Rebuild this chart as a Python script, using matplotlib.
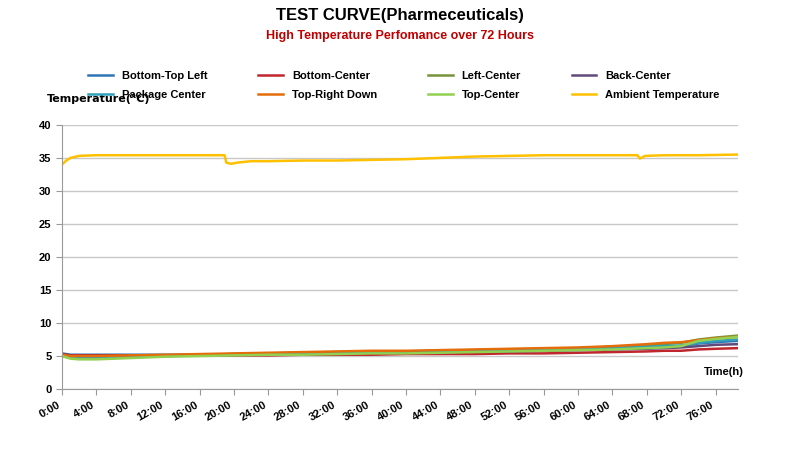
import matplotlib
matplotlib.use('Agg')
from matplotlib import pyplot as plt
import numpy as np

plt.rcParams['font.family'] = ['Liberation Sans', 'DejaVu Sans']

# key readings (hour, temperature)
hours = [0, 1, 2, 4, 8, 12, 16, 20, 24, 28, 32, 36, 40, 44, 48, 52, 56, 60, 64, 68, 70, 72, 74, 76, 78.6]
series = {
    'Bottom-Top Left':     ('#2e75b6', [5.4, 5.2, 5.2, 5.2, 5.2, 5.2, 5.2, 5.2, 5.3, 5.4, 5.5, 5.5, 5.6, 5.6, 5.7, 5.8, 5.9, 6.0, 6.1, 6.3, 6.4, 6.5, 6.9, 7.1, 7.3]),
    'Bottom-Center':       ('#c0272d', [5.3, 5.1, 5.1, 5.1, 5.1, 5.1, 5.1, 5.1, 5.1, 5.2, 5.2, 5.2, 5.3, 5.3, 5.3, 5.4, 5.4, 5.5, 5.6, 5.7, 5.8, 5.8, 6.0, 6.1, 6.2]),
    'Left-Center':         ('#77933c', [5.0, 4.7, 4.6, 4.6, 4.8, 5.0, 5.1, 5.3, 5.4, 5.5, 5.6, 5.7, 5.7, 5.8, 5.9, 6.0, 6.1, 6.2, 6.4, 6.6, 6.8, 7.0, 7.5, 7.8, 8.1]),
    'Back-Center':         ('#604a7b', [5.2, 5.0, 4.9, 4.9, 5.0, 5.1, 5.2, 5.3, 5.4, 5.4, 5.5, 5.5, 5.6, 5.6, 5.7, 5.7, 5.8, 5.9, 6.0, 6.1, 6.2, 6.3, 6.5, 6.7, 6.8]),
    'Package Center':      ('#31a0b8', [5.1, 4.9, 4.8, 4.8, 4.9, 5.0, 5.1, 5.3, 5.4, 5.5, 5.5, 5.6, 5.7, 5.7, 5.8, 5.9, 6.0, 6.1, 6.2, 6.4, 6.5, 6.6, 7.0, 7.3, 7.5]),
    'Top-Right Down':      ('#e46c0a', [5.2, 5.0, 5.0, 5.0, 5.1, 5.2, 5.3, 5.4, 5.5, 5.6, 5.7, 5.8, 5.8, 5.9, 6.0, 6.1, 6.2, 6.3, 6.5, 6.8, 7.0, 7.1, 7.4, 7.7, 7.9]),
    'Top-Center':          ('#92d050', [5.0, 4.6, 4.5, 4.5, 4.7, 4.9, 5.0, 5.1, 5.2, 5.2, 5.3, 5.4, 5.4, 5.5, 5.6, 5.7, 5.8, 5.9, 6.0, 6.2, 6.3, 6.5, 7.3, 7.6, 7.9]),
}
amb_hours = [0, 0.5, 1, 2, 4, 8, 12, 16, 18.9, 19.1, 19.6, 20.5, 22, 24, 28, 32, 36, 40, 44, 48, 52, 56, 60, 64, 66.9, 67.2, 67.8, 70, 74, 78.6]
amb_temp = [34.0, 34.6, 35.0, 35.3, 35.4, 35.4, 35.4, 35.4, 35.4, 34.3, 34.1, 34.3, 34.5, 34.5, 34.6, 34.6, 34.7, 34.8, 35.0, 35.2, 35.3, 35.4, 35.4, 35.4, 35.4, 34.9, 35.3, 35.4, 35.4, 35.5]

xticks = list(range(0, 80, 4))
xlabels = ['%d:00' % h for h in xticks]

fig = plt.figure(figsize=(8, 4.54), dpi=100)
ax = fig.add_axes([0.0775, 0.143, 0.845, 0.582])

for name, (col, vals) in series.items():
    ax.plot(hours, vals, color=col, linewidth=1.8, label=name)
ax.plot(amb_hours, amb_temp, color='#ffc000', linewidth=1.8, label='Ambient Temperature')

ax.set_xlim(0, 78.6)
ax.set_ylim(0, 40)
ax.set_yticks(range(0, 45, 5))
ax.set_xticks(xticks)
ax.set_xticklabels(xlabels, rotation=30, ha='right', fontsize=8, fontweight='bold')
for t in ax.get_yticklabels():
    t.set_fontsize(8)
    t.set_fontweight('bold')
ax.yaxis.grid(True, color='#c8c8c8', linewidth=1)
ax.set_axisbelow(True)
for s in ['top', 'right']:
    ax.spines[s].set_visible(False)
ax.spines['left'].set_color('#999999')
ax.spines['bottom'].set_color('#999999')
ax.tick_params(colors='#999999', labelcolor='black', length=4)

fig.text(0.5, 0.955, 'TEST CURVE(Pharmeceuticals)', ha='center', fontsize=12, fontweight='bold')
fig.text(0.5, 0.915, 'High Temperature Perfomance over 72 Hours', ha='center', fontsize=9, fontweight='bold', color='#c00000')
fig.text(0.058, 0.775, 'Temperature(℃)', fontsize=8, fontweight='bold', family=['DejaVu Sans'])
fig.text(0.905, 0.175, 'Time(h)', fontsize=8, fontweight='bold', ha='center')

handles, labels = ax.get_legend_handles_labels()
# reorder so rows read: first four, then last four
order = [0, 4, 1, 5, 2, 6, 3, 7]
fig.legend([handles[i] for i in order], [labels[i] for i in order], ncol=4, loc='center',
           bbox_to_anchor=(0.505, 0.812), frameon=False, prop={'weight': 'bold', 'size': 8},
           handlelength=2.2, columnspacing=4.6, labelspacing=0.75)

fig.savefig('out.png')
